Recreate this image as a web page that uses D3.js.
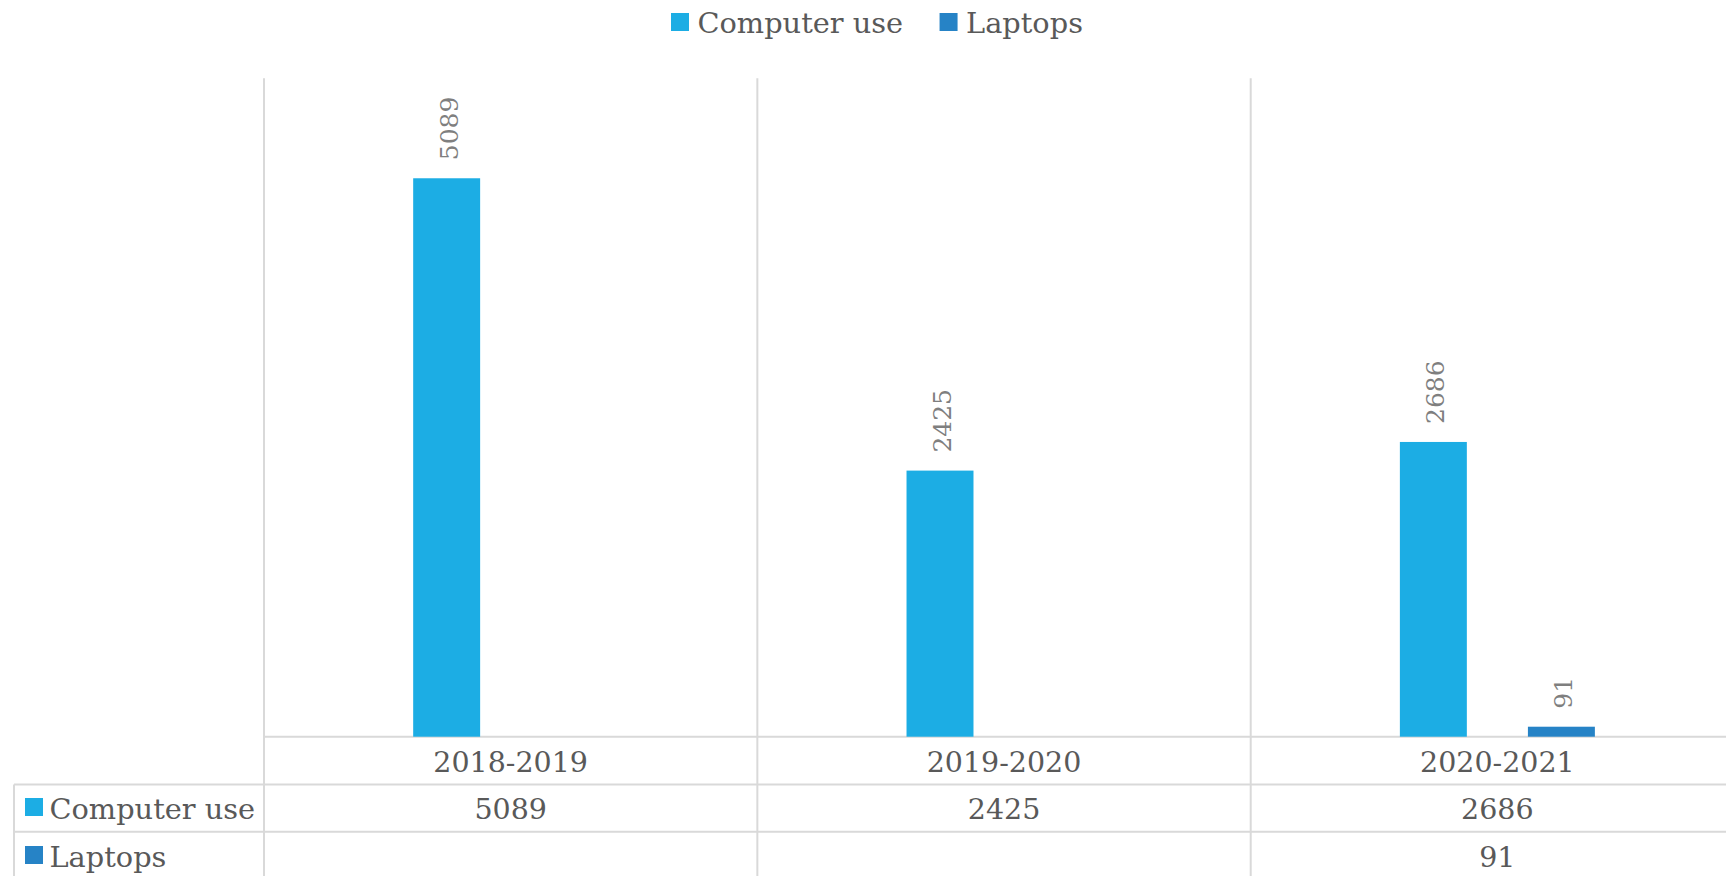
<!DOCTYPE html>
<html>
<head>
<meta charset="utf-8">
<script src="https://cdn.jsdelivr.net/npm/d3@7/dist/d3.min.js"></script>
<style>
  html, body { margin: 0; padding: 0; background: #fff; overflow: hidden; }
  svg { display: block; }
</style>
</head>
<body>
<svg id="chart" width="1726" height="876"></svg>
<script>
const categories = ["2018-2019", "2019-2020", "2020-2021"];
const seriesNames = ["Computer use", "Laptops"];
const computerUse = [5089, 2425, 2686];
const laptops = [null, null, 91];
const seriesColors = ["#1CADE4", "#2683C6"];
const yMax = 6000;

const W = 1726, H = 876;
const FONT = "'DejaVu Serif', serif";
const TEXT = "#595959";
const GRID = "#d9d9d9";

const svg = d3.select("#chart");

const plotLeft = 264, step = 493.35;
const plotTop = 78.3, baseY = 736.7;
const row1Y = 784.5, row2Y = 831.7, tableLeft = 14;

const x0 = d3.scaleBand().domain(categories)
  .range([plotLeft, plotLeft + step * categories.length]).paddingInner(0).paddingOuter(0);
const x1 = d3.scaleBand().domain(seriesNames).range([0, 195]).paddingInner(0.477).paddingOuter(0);
const y = d3.scaleLinear().domain([0, yMax]).range([baseY, plotTop]);

const values = [computerUse, laptops];

// grid / table lines
const g = svg.append("g").attr("stroke", GRID).attr("stroke-width", 2);
const bounds = categories.map(c => x0(c)).concat([x0.range()[1]]);
bounds.forEach(bx => {
  g.append("line").attr("x1", bx).attr("x2", bx).attr("y1", plotTop).attr("y2", H + 5);
});
g.append("line").attr("x1", plotLeft).attr("x2", W + 5).attr("y1", baseY).attr("y2", baseY);
g.append("line").attr("x1", tableLeft).attr("x2", W + 5).attr("y1", row1Y).attr("y2", row1Y);
g.append("line").attr("x1", tableLeft).attr("x2", W + 5).attr("y1", row2Y).attr("y2", row2Y);
g.append("line").attr("x1", tableLeft).attr("x2", tableLeft).attr("y1", row1Y).attr("y2", H + 5);

// bars
const bars = [];
seriesNames.forEach((s, si) => {
  categories.forEach((c, ci) => {
    const v = values[si][ci];
    if (v == null) return;
    bars.push({ s, si, c, v });
  });
});
const groupX = c => x0(c) + x0.bandwidth() / 2 - (x1.range()[1] - x1.range()[0]) / 2;

svg.append("g").selectAll("rect").data(bars).join("rect")
  .attr("x", d => groupX(d.c) + x1(d.s))
  .attr("width", x1.bandwidth())
  .attr("y", d => y(d.v))
  .attr("height", d => baseY - y(d.v))
  .attr("fill", d => seriesColors[d.si]);

// data labels (rotated)
svg.append("g").selectAll("text").data(bars).join("text")
  .attr("transform", d => {
    const cx = groupX(d.c) + x1(d.s) + x1.bandwidth() / 2 + 11;
    const ty = y(d.v) - 18;
    return `translate(${cx},${ty}) rotate(-90)`;
  })
  .attr("text-anchor", "start")
  .attr("font-family", FONT)
  .attr("font-size", 25)
  .attr("fill", "#7f7f7f")
  .text(d => d.v);

// category labels in table header
svg.append("g").selectAll("text").data(categories).join("text")
  .attr("x", c => x0(c) + x0.bandwidth() / 2)
  .attr("y", 772)
  .attr("text-anchor", "middle")
  .attr("font-family", FONT).attr("font-size", 28.5).attr("fill", TEXT)
  .text(c => c);

// table rows
const rowBase = [819, 866.5];
const rowKeyTop = [798, 846];
seriesNames.forEach((s, si) => {
  svg.append("rect").attr("x", 25).attr("y", rowKeyTop[si]).attr("width", 18).attr("height", 18)
    .attr("fill", seriesColors[si]);
  svg.append("text").attr("x", 49.5).attr("y", rowBase[si])
    .attr("font-family", FONT).attr("font-size", 28.8).attr("fill", TEXT).text(s);
  svg.append("g").selectAll("text").data(categories.map((c, ci) => ({ c, v: values[si][ci] })).filter(d => d.v != null))
    .join("text")
    .attr("x", d => x0(d.c) + x0.bandwidth() / 2)
    .attr("y", rowBase[si])
    .attr("text-anchor", "middle")
    .attr("font-family", FONT).attr("font-size", 28.5).attr("fill", TEXT)
    .text(d => d.v);
});

// legend
const legend = svg.append("g");
let lx = 671;
seriesNames.forEach((s, si) => {
  legend.append("rect").attr("x", lx).attr("y", 13).attr("width", 18).attr("height", 18)
    .attr("fill", seriesColors[si]);
  const t = legend.append("text").attr("x", lx + 26.5).attr("y", 33)
    .attr("font-family", FONT).attr("font-size", 28.8).attr("fill", TEXT).text(s);
  const w = t.node().getComputedTextLength();
  lx = lx + 26.5 + w + 36.5;
});
</script>
</body>
</html>
